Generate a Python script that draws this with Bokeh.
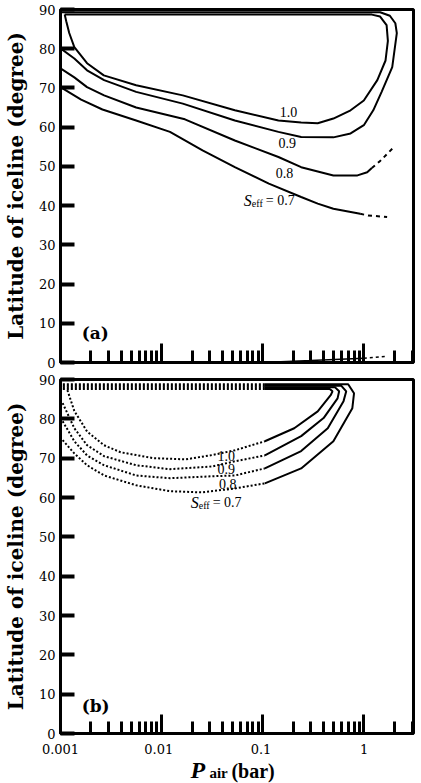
import math
from bokeh.plotting import figure
from bokeh.layouts import column
from bokeh.models import FixedTicker, Range1d
from bokeh.core.properties import value
from bokeh.embed import file_html
from bokeh.resources import INLINE

# ---------------- data ----------------
LAT_TICKS = [0, 10, 20, 30, 40, 50, 60, 70, 80, 90]
P_MAJOR = [0.001, 0.01, 0.1, 1]
P_MAJOR_LABELS = ["0.001", "0.01", "0.1", "1"]
P_MINOR = [0.002, 0.003, 0.004, 0.005, 0.006, 0.007, 0.008, 0.009,
           0.02, 0.03, 0.04, 0.05, 0.06, 0.07, 0.08, 0.09,
           0.2, 0.3, 0.4, 0.5, 0.6, 0.7, 0.8, 0.9, 2, 3]
SEFF = ["1.0", "0.9", "0.8", "0.7"]

# Panel (a)
A10_P = [0.0011, 0.00114, 0.00122, 0.00137, 0.00183, 0.00268, 0.0056, 0.0162, 0.053, 0.143,
         0.24, 0.35, 0.5, 0.74, 1.0, 1.36, 1.64, 1.73, 1.68, 1.45, 1.2, 0.3, 0.01, 0.0011]
A10_LAT = [88.7, 87.0, 84.0, 80.4, 76.3, 73.2, 70.7, 68.1, 64.3, 61.7,
           61.2, 61.0, 62.2, 64.3, 66.8, 72.0, 77.0, 82.0, 86.0, 88.2, 88.7, 88.7, 88.7, 88.7]
A09_P = [0.001, 0.00137, 0.00183, 0.0027, 0.0056, 0.0162, 0.053, 0.143, 0.24, 0.5, 0.74,
         1.0, 1.24, 1.5, 1.91, 2.12, 2.05, 1.81, 1.45, 0.3, 0.01, 0.001]
A09_LAT = [80.1, 77.5, 74.5, 72.0, 69.0, 66.0, 61.7, 58.8, 57.5, 57.4, 58.4,
           60.5, 64.3, 69.0, 75.3, 84.0, 86.5, 88.4, 89.3, 89.3, 89.3, 89.3]
A08_P = [0.001, 0.00137, 0.00183, 0.0027, 0.0056, 0.017, 0.053, 0.143, 0.24, 0.5, 0.865, 1.08, 1.2]
A08_LAT = [75.0, 72.7, 70.2, 68.1, 65.0, 62.0, 56.6, 52.4, 49.8, 47.7, 47.7, 48.5, 49.6]
A08_DASH_P = [1.2, 1.44, 2.0]
A08_DASH_LAT = [49.6, 51.3, 55.0]
A07_P = [0.001, 0.0016, 0.0026, 0.0056, 0.0121, 0.0254, 0.053, 0.115, 0.24, 0.35, 0.5, 0.92]
A07_LAT = [70.2, 67.0, 64.5, 61.7, 58.8, 54.1, 49.8, 45.6, 42.2, 40.5, 39.2, 37.9]
A07_DASH_P = [0.92, 1.1, 1.7]
A07_DASH_LAT = [37.9, 37.5, 37.1]
ABOT_P = [0.1, 0.3, 1.0]
ABOT_LAT = [0.0, 0.5, 1.1]
ABOT_DASH_P = [1.0, 1.7]
ABOT_DASH_LAT = [1.1, 1.6]

# Panel (b)
B10_DOT_P = [0.00117, 0.00137, 0.00183, 0.00269, 0.00393, 0.0083, 0.0174, 0.0318, 0.053, 0.105]
B10_DOT_LAT = [87.3, 82.0, 76.8, 73.3, 71.5, 70.0, 69.7, 70.8, 72.0, 74.3]
B10_SOL_P = [0.105, 0.205, 0.35, 0.47, 0.49, 0.46, 0.105]
B10_SOL_LAT = [74.3, 77.6, 81.9, 86.0, 87.0, 87.6, 87.6]
B09_DOT_P = [0.00105, 0.00137, 0.00183, 0.0027, 0.0056, 0.0121, 0.0318, 0.053, 0.105]
B09_DOT_LAT = [84.0, 77.6, 73.3, 70.5, 68.2, 67.2, 67.9, 69.2, 70.7]
B09_SOL_P = [0.105, 0.24, 0.40, 0.55, 0.57, 0.52, 0.105]
B09_SOL_LAT = [70.7, 75.6, 80.2, 85.2, 87.0, 88.0, 88.0]
B08_DOT_P = [0.00105, 0.00137, 0.00183, 0.0027, 0.0056, 0.0121, 0.0318, 0.053, 0.105]
B08_DOT_LAT = [79.4, 74.3, 70.7, 68.2, 65.6, 64.9, 65.4, 65.6, 67.4]
B08_SOL_P = [0.105, 0.24, 0.44, 0.63, 0.67, 0.60, 0.105]
B08_SOL_LAT = [67.4, 71.8, 77.6, 84.5, 87.0, 88.4, 88.4]
B07_DOT_P = [0.00105, 0.00137, 0.00183, 0.0027, 0.0056, 0.0121, 0.025, 0.053, 0.105]
B07_DOT_LAT = [74.6, 71.2, 68.2, 65.6, 63.1, 61.6, 61.3, 62.3, 63.6]
B07_SOL_P = [0.105, 0.24, 0.5, 0.77, 0.80, 0.70, 0.105]
B07_SOL_LAT = [63.6, 67.4, 74.3, 82.7, 86.5, 88.8, 88.8]
B_TOP_P = [0.105, 0.00105]
B_TOP_LAT = [87.6, 88.0, 88.4, 88.8]

X_TITLE = ["P", "air", "(bar)"]

SERIF = "DejaVu Serif"
TIMES = "Liberation Serif"

# ---------------- layout (pixels) ----------------
W = 421
LEFT, RIGHT = 56, 8
FRAME_W = W - LEFT - RIGHT
X_START, X_END = 0.001, 3.1
PA_H = 370
PB_TOP, PB_FRAME_H, PB_BOTTOM = 9, 354, 10
PB_H = PB_TOP + PB_FRAME_H + PB_BOTTOM
STRIP_H = 783 - PA_H - PB_H


def make_fig(height, top, bottom):
    p = figure(width=W, height=height, x_axis_type="log",
               x_range=(X_START, X_END), y_range=(0, 90),
               min_border_left=LEFT, min_border_right=RIGHT,
               min_border_top=top, min_border_bottom=bottom,
               output_backend="svg", toolbar_location=None)
    p.xgrid.visible = False
    p.ygrid.visible = False
    p.outline_line_color = "black"
    p.outline_line_width = 3
    p.outline_line_alpha = 1
    p.background_fill_color = "white"
    p.border_fill_color = "white"

    xa = p.xaxis[0]
    xa.ticker = FixedTicker(ticks=P_MAJOR, minor_ticks=P_MINOR)
    xa.axis_line_width = 3
    xa.major_tick_in = 19
    xa.major_tick_out = 0
    xa.minor_tick_in = 12
    xa.minor_tick_out = 0
    xa.major_tick_line_width = 3
    xa.minor_tick_line_width = 3
    # tick labels are drawn in the strip below panel (b)
    xa.major_label_text_font_size = "0px"
    xa.major_label_text_color = None
    xa.major_label_standoff = 0

    ya = p.yaxis[0]
    ya.ticker = FixedTicker(ticks=LAT_TICKS, minor_ticks=[])
    ya.axis_line_width = 3
    ya.major_tick_in = 14
    ya.major_tick_out = 0
    ya.major_tick_line_width = 4
    ya.minor_tick_line_color = None
    ya.major_label_text_font = SERIF
    ya.major_label_text_font_size = "13px"
    ya.major_label_text_color = "black"
    ya.major_label_standoff = 5
    ya.axis_label = "Latitude of iceline (degree)"
    ya.axis_label_text_font = SERIF
    ya.axis_label_text_font_style = "bold"
    ya.axis_label_text_font_size = "20px"
    ya.axis_label_text_color = "black"
    ya.axis_label_standoff = 8
    return p


def seff_label(p, x, y, rest):
    p.text(x=[x], y=[y], text=["S"], text_font=value(TIMES), text_font_style="italic",
           text_font_size="16px", text_align="left", text_baseline="middle", text_color="black")
    p.text(x=[x], y=[y], text=["eff"], text_font=value(TIMES), text_font_size="10px",
           x_offset=8, y_offset=3, text_align="left", text_baseline="middle", text_color="black")
    p.text(x=[x], y=[y], text=[rest], text_font=value(TIMES), text_font_size="14px",
           x_offset=22, text_align="left", text_baseline="middle", text_color="black")


LW = 2

# ---------------- panel (a) ----------------
pa = make_fig(PA_H, 9, 8)
pa.line(A10_P, A10_LAT, line_color="black", line_width=LW)
pa.line(A09_P, A09_LAT, line_color="black", line_width=LW)
pa.line(A08_P, A08_LAT, line_color="black", line_width=LW)
pa.line(A08_DASH_P, A08_DASH_LAT, line_color="black", line_width=LW, line_dash="4 4")
pa.line(A07_P, A07_LAT, line_color="black", line_width=LW)
pa.line(A07_DASH_P, A07_DASH_LAT, line_color="black", line_width=LW, line_dash="4 4")
pa.line(ABOT_P, ABOT_LAT, line_color="black", line_width=1.5)
pa.line(ABOT_DASH_P, ABOT_DASH_LAT, line_color="black", line_width=1.5, line_dash="3 3")

pa.text(x=[0.18, 0.175, 0.164], y=[63.8, 55.9, 48.2], text=SEFF[:3],
        text_font=value(TIMES), text_font_size="14px", text_align="center",
        text_baseline="middle", text_color="black")
seff_label(pa, 0.065, 41.3, "= " + SEFF[3])
pa.text(x=[0.00162], y=[7.6], text=["(a)"], text_font=value(SERIF), text_font_style="bold",
        text_font_size="17px", text_align="left", text_baseline="middle", text_color="black")

# ---------------- panel (b) ----------------
pb = make_fig(PB_H, PB_TOP, PB_BOTTOM)
DOT = "2 2"
for dp, dl, sp, sl in [(B10_DOT_P, B10_DOT_LAT, B10_SOL_P, B10_SOL_LAT),
                       (B09_DOT_P, B09_DOT_LAT, B09_SOL_P, B09_SOL_LAT),
                       (B08_DOT_P, B08_DOT_LAT, B08_SOL_P, B08_SOL_LAT),
                       (B07_DOT_P, B07_DOT_LAT, B07_SOL_P, B07_SOL_LAT)]:
    pb.line(dp, dl, line_color="black", line_width=LW, line_dash=DOT)
    pb.line(sp, sl, line_color="black", line_width=LW)
for lvl in B_TOP_LAT:
    pb.line(B_TOP_P, [lvl, lvl], line_color="black", line_width=LW, line_dash=DOT)

pb.text(x=[0.0435, 0.0435, 0.045], y=[70.5, 67.2, 63.4], text=SEFF[:3],
        text_font=value(TIMES), text_font_size="14px", text_align="center",
        text_baseline="middle", text_color="black")
seff_label(pb, 0.0194, 58.8, "= " + SEFF[3])
pb.text(x=[0.00162], y=[7.1], text=["(b)"], text_font=value(SERIF), text_font_style="bold",
        text_font_size="17px", text_align="left", text_baseline="middle", text_color="black")

# ---------------- strip below (b): x tick labels + x title, same log scale ----------------
decade_px = FRAME_W / (math.log10(X_END) - math.log10(X_START))
strip_start = 10 ** (math.log10(X_START) - LEFT / decade_px)
strip_end = 10 ** (math.log10(X_END) + RIGHT / decade_px)
pt = figure(width=W, height=STRIP_H, x_axis_type="log",
            x_range=Range1d(strip_start, strip_end), y_range=Range1d(0, STRIP_H),
            x_axis_location=None, y_axis_location=None,
            min_border_left=0, min_border_right=0, min_border_top=0, min_border_bottom=0,
            output_backend="svg", toolbar_location=None)
if "frame_align" in pt.properties():
    pt.frame_align = False
pt.grid.visible = False
pt.outline_line_color = None
pt.background_fill_color = "white"
pt.border_fill_color = "white"

pt.text(x=P_MAJOR, y=[STRIP_H - 5] * len(P_MAJOR), text=P_MAJOR_LABELS,
        x_offset=[4, 0, 0, 1],
        text_font=value(SERIF), text_font_size="13px", text_align="center",
        text_baseline="middle", text_color="black")

TX = 0.0204
TY = 14
pt.text(x=[TX], y=[TY], text=[X_TITLE[0]], text_font=value(TIMES), text_font_style="bold italic",
        text_font_size="24px", text_align="left", text_baseline="middle", text_color="black")
pt.text(x=[TX], y=[TY], text=[X_TITLE[1]], text_font=value(TIMES), text_font_style="bold",
        text_font_size="15px", x_offset=19, y_offset=3, text_align="left", text_baseline="middle",
        text_color="black")
pt.text(x=[TX], y=[TY], text=[X_TITLE[2]], text_font=value(TIMES), text_font_style="bold",
        text_font_size="20px", x_offset=41, y_offset=1, text_align="left", text_baseline="middle",
        text_color="black")

layout = column(pa, pb, pt, spacing=0)
open("out.html", "w").write(file_html(layout, INLINE))
